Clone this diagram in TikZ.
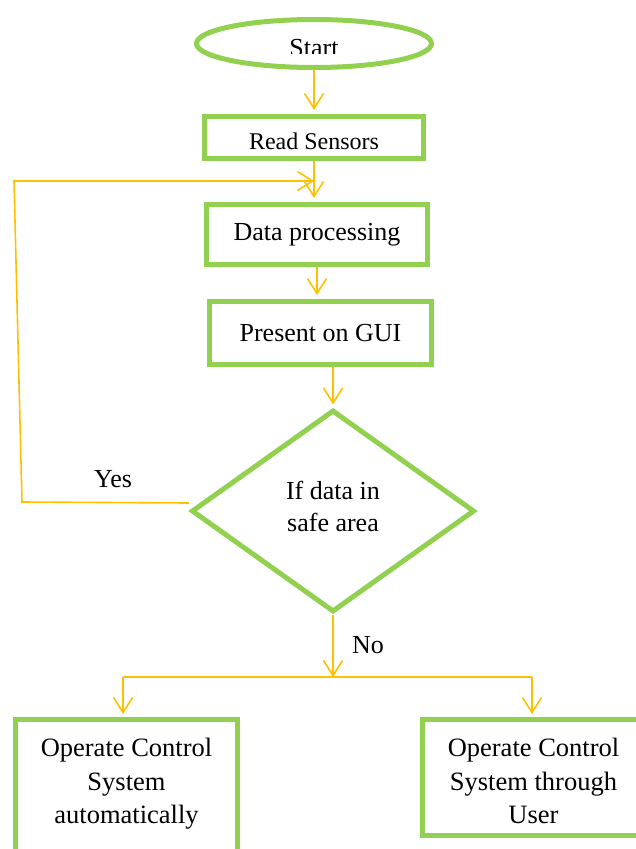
\documentclass[tikz,border=0pt]{standalone}
\usepackage{fontspec}
\setmainfont{Liberation Serif}
\usetikzlibrary{shapes.geometric,arrows.meta,calc}
\definecolor{boxgreen}{HTML}{92D050}
\definecolor{flowyellow}{HTML}{FFC000}
\tikzset{
  box/.style={draw=boxgreen, line width=5pt, rectangle, inner sep=0pt, align=center,
    font=\fontsize{26}{32}\selectfont},
  flow/.style={draw=flowyellow, line width=1.6pt},
  arr/.style={flow, -{Straight Barb[length=15pt,width=19pt]}},
  txt/.style={font=\fontsize{26}{32}\selectfont, align=center, inner sep=0pt},
  bigtxt/.style={font=\fontsize{26.5}{33.5}\selectfont, align=center, inner sep=0pt},
}
\begin{document}
\begin{tikzpicture}[x=1pt,y=-1pt]
\useasboundingbox (0,0) rectangle (636,849);
% shapes
\node[draw=boxgreen, line width=5pt, ellipse, inner sep=0pt,
  minimum width=235pt, minimum height=48pt] (start) at (314,43.5) {};
\begin{scope}
  \clip (250,20) rectangle (380,53);
  \node[txt, anchor=base] (startT) at (314,56) {Start};
\end{scope}
\node[box, minimum width=219pt, minimum height=42pt, font=\fontsize{24}{30}\selectfont,
  text height=24pt, text depth=0pt]
  (read) at (314,137.5) {Read Sensors};
\node[box, minimum width=221pt, minimum height=60pt] (data) at (317,234.5) {Data processing};
\node[box, minimum width=222pt, minimum height=63pt] (pres) at (320.5,333) {Present on GUI};
\node[draw=boxgreen, line width=5pt, diamond, inner sep=0pt,
  minimum width=283pt, minimum height=202pt] (dia) at (333,511) {};
\node[txt] (diaT) at (333,506) {If data in\\safe area};
\node[box, minimum width=222pt, minimum height=150pt] (left) at (126.5,794.5) {};
\node[bigtxt] (leftT) at (126.5,784) {Operate Control\\System\\automatically};
\node[box, minimum width=222pt, minimum height=116pt] (right) at (533.5,777.5) {};
\node[bigtxt] (rightT) at (533.5,781) {Operate Control\\System through\\User};
% labels
\node[txt] (yes) at (113,479) {Yes};
\node[txt] (no) at (368,645) {No};
% coordinates
\coordinate (join) at (314,181);
\coordinate (fbA) at (22,502);
\coordinate (fbB) at (14,181);
\coordinate (split) at (333,677);
\coordinate (bl) at (123,677);
\coordinate (br) at (532,677);
% connectors
\draw[arr, shorten >=4pt] (start.south) -- (read.north);
\draw[arr, shorten >=4pt] (read.south) -- (read.south |- data.north);
\draw[arr, shorten >=4pt] (data.south) -- (data.south |- pres.north);
\draw[arr, shorten >=3pt] (pres.south -| dia.north) -- (dia.north);
\draw[flow] ([yshift=8pt]dia.west) -- (fbA) -- (fbB) -- ($(join)+(-60,0)$);
\draw[arr] ($(join)+(-60,0)$) -- (join);
\draw[arr] (dia.south) -- (split);
\draw[flow] (bl) -- (br);
\draw[arr, shorten >=3pt] (bl) -- (bl |- left.north);
\draw[arr, shorten >=3pt] (br) -- (br |- right.north);
\end{tikzpicture}
\end{document}
